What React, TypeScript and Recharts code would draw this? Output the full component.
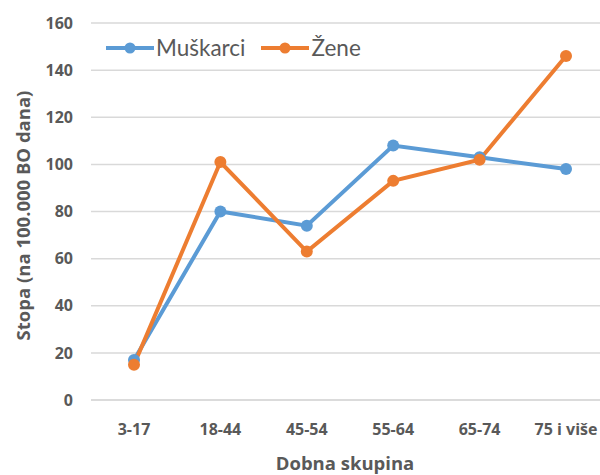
import { LineChart, Line, XAxis, YAxis, CartesianGrid } from "recharts";

const ageGroups = ["3-17", "18-44", "45-54", "55-64", "65-74", "75 i više"];
const muskarci = [17, 80, 74, 108, 103, 98];
const zene = [15, 101, 63, 93, 102, 146];
const yTicks = [0, 20, 40, 60, 80, 100, 120, 140, 160];

const data = ageGroups.map((group, i) => ({
  group,
  Muškarci: muskarci[i],
  Žene: zene[i],
}));

const series = [
  { key: "Muškarci", color: "#5B9BD5" },
  { key: "Žene", color: "#ED7D31" },
];

const FONT = "'Open Sans', Lato, sans-serif";
const LEGEND_FONT = "Lato, 'Open Sans', sans-serif";
const TEXT = "#595959";

function ChartLegend() {
  return (
    <div
      style={{
        position: "absolute",
        top: 34,
        left: 106,
        display: "flex",
        alignItems: "center",
        fontFamily: LEGEND_FONT,
      }}
    >
      {series.map((s) => (
        <div key={s.key} style={{ display: "flex", alignItems: "center", marginRight: 16 }}>
          <svg width={48} height={14}>
            <line x1={0} y1={7} x2={48} y2={7} stroke={s.color} strokeWidth={4} />
            <circle cx={24} cy={7} r={5.5} fill={s.color} />
          </svg>
          <span style={{ fontSize: 22.5, color: TEXT, marginLeft: 2 }}>{s.key}</span>
        </div>
      ))}
    </div>
  );
}

export default function App() {
  return (
    <div style={{ position: "absolute", left: 0, top: 0, width: 600, height: 475, overflow: "hidden", background: "#fff" }}>
      <LineChart width={615} height={475} data={data} margin={{ top: 23, right: 6, bottom: 0, left: 0 }}>
        <CartesianGrid vertical={false} stroke="#d9d9d9" strokeWidth={1.5} />
        <XAxis
          dataKey="group"
          height={75}
          padding={{ left: 43, right: 43 }}
          tickSize={0}
          tickMargin={24}
          axisLine={{ stroke: "#d9d9d9", strokeWidth: 1.5 }}
          tick={{ fill: TEXT, fontSize: 16, fontWeight: 700, fontFamily: FONT }}
          label={(props: any) => {
            const vb = props.viewBox;
            return (
              <text
                x={vb.x + vb.width / 2 - 5}
                y={470}
                textAnchor="middle"
                fill={TEXT}
                fontSize={18.5}
                fontWeight={700}
                fontFamily={FONT}
              >
                Dobna skupina
              </text>
            );
          }}
        />
        <YAxis
          width={91}
          domain={[0, 160]}
          ticks={yTicks}
          tickSize={0}
          tickMargin={18}
          axisLine={false}
          tick={{ fill: TEXT, fontSize: 16, fontWeight: 700, fontFamily: FONT }}
          label={(props: any) => {
            const vb = props.viewBox;
            const cy = vb.y + vb.height / 2 + 4;
            return (
              <text
                x={22}
                y={cy}
                transform={`rotate(-90 22 ${cy})`}
                textAnchor="middle"
                dominantBaseline="central"
                fill={TEXT}
                fontSize={18.5}
                fontWeight={700}
                fontFamily={FONT}
              >
                Stopa (na 100.000 BO dana)
              </text>
            );
          }}
        />
        {series.map((s) => (
          <Line
            key={s.key}
            dataKey={s.key}
            stroke={s.color}
            strokeWidth={4}
            dot={{ r: 6, fill: s.color, stroke: s.color, strokeWidth: 0 }}
            isAnimationActive={false}
          />
        ))}
      </LineChart>
      <ChartLegend />
    </div>
  );
}
